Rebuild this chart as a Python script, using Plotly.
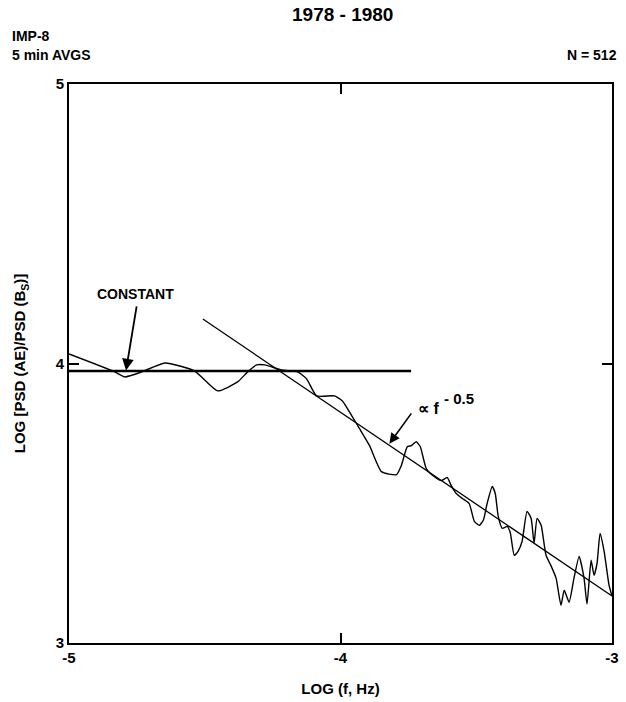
import plotly.graph_objects as go

# Measured spectral ratio curve: log10(f) and log10[PSD(AE)/PSD(Bs)]
log_f = [-5.000, -4.831, -4.794, -4.732, -4.647, -4.537, -4.452, -4.379, -4.342, -4.309,
         -4.279, -4.217, -4.158, -4.125, -4.088, -4.022, -3.993, -3.956, -3.930, -3.893,
         -3.849, -3.794, -3.776, -3.754, -3.739, -3.721, -3.706, -3.684, -3.654, -3.629,
         -3.607, -3.592, -3.574, -3.551, -3.526, -3.507, -3.489, -3.474, -3.460, -3.441,
         -3.430, -3.419, -3.404, -3.386, -3.375, -3.360, -3.346, -3.331, -3.313, -3.298,
         -3.287, -3.276, -3.261, -3.243, -3.224, -3.206, -3.188, -3.176, -3.158, -3.140,
         -3.121, -3.103, -3.092, -3.077, -3.066, -3.055, -3.044, -3.029, -3.011, -3.000]
log_ratio = [4.034, 3.970, 3.952, 3.970, 4.002, 3.973, 3.902, 3.934, 3.970, 3.995,
             3.995, 3.977, 3.970, 3.945, 3.884, 3.884, 3.866, 3.809, 3.767, 3.706,
             3.613, 3.602, 3.635, 3.702, 3.706, 3.720, 3.702, 3.624, 3.595, 3.581,
             3.592, 3.563, 3.535, 3.517, 3.499, 3.435, 3.421, 3.439, 3.499, 3.560,
             3.535, 3.453, 3.410, 3.417, 3.396, 3.314, 3.328, 3.364, 3.471, 3.446,
             3.357, 3.446, 3.421, 3.314, 3.275, 3.232, 3.135, 3.189, 3.146, 3.232,
             3.310, 3.232, 3.139, 3.296, 3.242, 3.285, 3.392, 3.328, 3.207, 3.168]

# Constant fit (low frequencies)
const_x = [-5.0, -3.74]
const_y = [3.973, 3.973]

# Power-law fit (high frequencies)
power_x = [-4.507, -3.0]
power_y = [4.159, 3.168]

x_ticks = [-5, -4, -3]
x_tick_labels = ["-5", "-4", "-3"]
y_ticks = [3, 4, 5]
y_tick_labels = ["3", "4", "5"]

FONT = "Liberation Sans"

fig = go.Figure()
fig.add_trace(go.Scatter(x=log_f, y=log_ratio, mode="lines",
                         line=dict(color="black", width=1.4, shape="spline", smoothing=0.5),
                         showlegend=False, hoverinfo="skip"))
fig.add_trace(go.Scatter(x=const_x, y=const_y, mode="lines",
                         line=dict(color="black", width=2.4),
                         showlegend=False, hoverinfo="skip"))
fig.add_trace(go.Scatter(x=power_x, y=power_y, mode="lines",
                         line=dict(color="black", width=1.3),
                         showlegend=False, hoverinfo="skip"))

axis_common = dict(showline=True, mirror="allticks", linecolor="black", linewidth=2,
                   ticks="inside", ticklen=10, tickwidth=1.5, tickcolor="black",
                   showgrid=False, zeroline=False,
                   tickfont=dict(family=FONT, size=15, color="black", weight="bold"))

fig.update_xaxes(range=[-5, -3], tickvals=x_ticks, ticktext=x_tick_labels,
                 title=dict(text="LOG (f, Hz)", standoff=18,
                            font=dict(family=FONT, size=15, color="black", weight="bold")),
                 **axis_common)
fig.update_yaxes(range=[3, 5], tickvals=y_ticks, ticktext=y_tick_labels,
                 title=dict(text="LOG [PSD (AE)/PSD (B<sub>S</sub>)]", standoff=26,
                            font=dict(family=FONT, size=15, color="black", weight="bold")),
                 **axis_common)

txt = dict(family=FONT, color="black", weight="bold")
annotations = [
    dict(text="1978 - 1980", x=0.504, y=1.125, xref="paper", yref="paper",
         showarrow=False, font=dict(size=19, **txt), xanchor="center", yanchor="middle"),
    dict(text="IMP-8", x=-0.108, y=1.0856, xref="paper", yref="paper",
         showarrow=False, font=dict(size=14, **txt), xanchor="left", yanchor="middle"),
    dict(text="5 min AVGS", x=-0.108, y=1.0517, xref="paper", yref="paper",
         showarrow=False, font=dict(size=14, **txt), xanchor="left", yanchor="middle"),
    dict(text="N = 512", x=1.0129, y=1.0517, xref="paper", yref="paper",
         showarrow=False, font=dict(size=14, **txt), xanchor="right", yanchor="middle"),
    dict(text="", x=-4.79, y=3.975, xref="x", yref="y",
         ax=-4.75, ay=4.21, axref="x", ayref="y",
         showarrow=True, arrowhead=2, arrowsize=1.3, arrowwidth=1.8, arrowcolor="black"),
    dict(text="CONSTANT", x=-4.754, y=4.248, xref="x", yref="y",
         showarrow=False, font=dict(size=14, **txt), xanchor="center", yanchor="middle"),
    dict(text="", x=-3.82, y=3.713, xref="x", yref="y",
         ax=-3.735, ay=3.827, axref="x", ayref="y",
         showarrow=True, arrowhead=2, arrowsize=1.3, arrowwidth=1.6, arrowcolor="black"),
    dict(text="∝ f", x=-3.721, y=3.838, xref="x", yref="y",
         showarrow=False, font=dict(size=16, **txt), xanchor="left", yanchor="middle"),
    dict(text="- 0.5", x=-3.628, y=3.875, xref="x", yref="y",
         showarrow=False, font=dict(size=15, **txt), xanchor="left", yanchor="middle"),
]

fig.update_layout(width=626, height=702,
                  margin=dict(l=69, r=7, t=84, b=54),
                  paper_bgcolor="white", plot_bgcolor="white",
                  annotations=annotations, showlegend=False)

fig.write_html("out.html", config={"displayModeBar": False},
               post_script="document.body.style.margin='0';document.body.style.overflow='hidden';")
